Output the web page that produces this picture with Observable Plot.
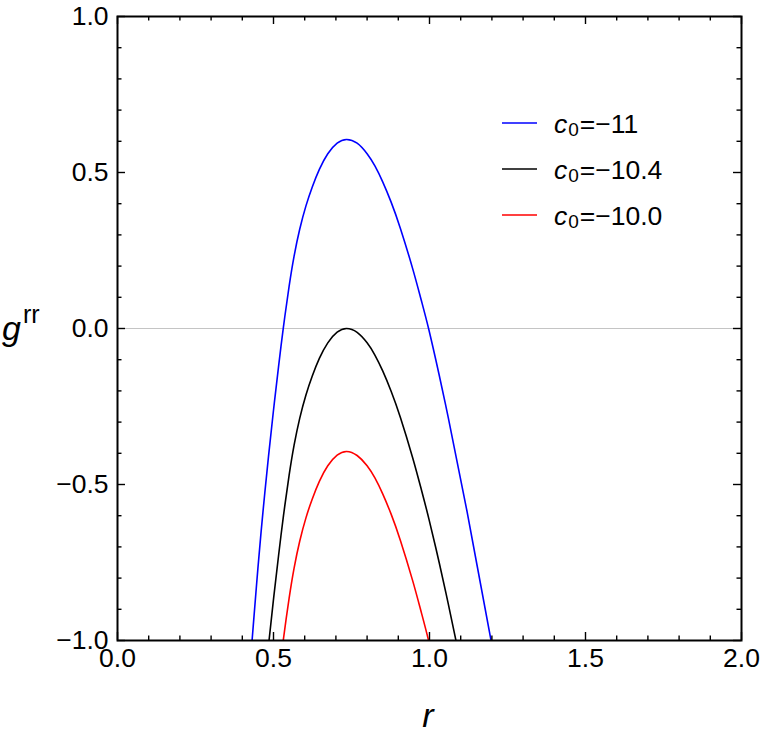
<!DOCTYPE html>
<html>
<head>
<meta charset="utf-8">
<script src="https://cdn.jsdelivr.net/npm/d3@7"></script>
<script src="https://cdn.jsdelivr.net/npm/@observablehq/plot@0.6"></script>
<style>
  html, body { margin: 0; padding: 0; background: #fff; }
  #chart { width: 763px; height: 742px; }
</style>
</head>
<body>
<div id="chart"></div>
<script>
// g^rr as a function of r for three values of the constant c0
const seriesNames = ["c0=−11", "c0=−10.4", "c0=−10.0"];
const seriesColors = ["#0000ff", "#000000", "#ff0000"];

const rC11 = [0.428, 0.435, 0.450, 0.466, 0.484, 0.500, 0.516, 0.532, 0.550, 0.566, 0.584, 0.604, 0.624, 0.647, 0.674, 0.704, 0.734, 0.768, 0.800, 0.825, 0.850, 0.877, 0.907, 0.946, 0.973, 0.998, 1.031, 1.060, 1.089, 1.120, 1.153, 1.201];
const gC11 = [-1.042, -0.954, -0.769, -0.590, -0.410, -0.262, -0.124, 0.006, 0.135, 0.232, 0.318, 0.393, 0.453, 0.510, 0.560, 0.594, 0.606, 0.594, 0.560, 0.521, 0.470, 0.405, 0.320, 0.192, 0.093, -0.004, -0.149, -0.285, -0.430, -0.585, -0.762, -1.020];

const rC104 = [0.466, 0.484, 0.500, 0.516, 0.532, 0.550, 0.566, 0.584, 0.604, 0.624, 0.647, 0.674, 0.704, 0.734, 0.768, 0.800, 0.825, 0.850, 0.877, 0.907, 0.946, 0.973, 0.998, 1.031, 1.060, 1.089, 1.120];
const gC104 = [-1.196, -1.016, -0.868, -0.730, -0.600, -0.471, -0.374, -0.288, -0.213, -0.153, -0.096, -0.046, -0.012, 0.0, -0.0125, -0.046, -0.085, -0.136, -0.201, -0.286, -0.414, -0.513, -0.610, -0.750, -0.882, -1.020, -1.175];

const rC100 = [0.516, 0.532, 0.550, 0.566, 0.584, 0.604, 0.624, 0.647, 0.674, 0.704, 0.734, 0.768, 0.800, 0.825, 0.850, 0.877, 0.907, 0.946, 0.973, 0.998, 1.031];
const gC100 = [-1.124, -0.994, -0.865, -0.768, -0.682, -0.607, -0.547, -0.490, -0.440, -0.406, -0.394, -0.407, -0.440, -0.479, -0.530, -0.595, -0.680, -0.808, -0.907, -1.004, -1.149];

const xMajor = [0, 0.5, 1.0, 1.5, 2.0];
const xMinor = [0.1, 0.2, 0.3, 0.4, 0.6, 0.7, 0.8, 0.9, 1.1, 1.2, 1.3, 1.4, 1.6, 1.7, 1.8, 1.9];
const yMajor = [-1.0, -0.5, 0.0, 0.5, 1.0];
const yMinor = [-0.9, -0.8, -0.7, -0.6, -0.4, -0.3, -0.2, -0.1, 0.1, 0.2, 0.3, 0.4, 0.6, 0.7, 0.8, 0.9];

const curves = [[rC11, gC11], [rC104, gC104], [rC100, gC100]];
const rows = curves.flatMap(([rs, gs], k) =>
  rs.map((r, i) => ({r, g: gs[i], series: seriesNames[k]}))
);

const W = 763, H = 742;
const M = {left: 117, right: 22, top: 16, bottom: 102};
const innerW = W - M.left - M.right;
const innerH = H - M.top - M.bottom;
const majorLen = 8, minorLen = 4.5;
const tick = {stroke: "black", strokeWidth: 1.4};

const fmt = d3.format(".1f");

const plot = Plot.plot({
  width: W,
  height: H,
  marginLeft: M.left,
  marginRight: M.right,
  marginTop: M.top,
  marginBottom: M.bottom,
  x: {domain: [0, 2]},
  y: {domain: [-1, 1]},
  color: {domain: seriesNames, range: seriesColors},
  style: {fontFamily: "'Liberation Sans', Arial, sans-serif", fontSize: "26.5px", color: "black", background: "white"},
  marks: [
    Plot.ruleY([0], {stroke: "#c4c4c4", strokeWidth: 1}),
    Plot.line(rows, {x: "r", y: "g", z: "series", stroke: "series", strokeWidth: 1.6, curve: "natural", clip: true}),
    // inward ticks on all four sides
    Plot.ruleX(xMajor, {...tick, insetTop: innerH - majorLen}),
    Plot.ruleX(xMinor, {...tick, insetTop: innerH - minorLen}),
    Plot.ruleX(xMajor, {...tick, insetBottom: innerH - majorLen}),
    Plot.ruleX(xMinor, {...tick, insetBottom: innerH - minorLen}),
    Plot.ruleY(yMajor, {...tick, insetRight: innerW - majorLen}),
    Plot.ruleY(yMinor, {...tick, insetRight: innerW - minorLen}),
    Plot.ruleY(yMajor, {...tick, insetLeft: innerW - majorLen}),
    Plot.ruleY(yMinor, {...tick, insetLeft: innerW - minorLen}),
    Plot.frame({stroke: "black", strokeWidth: 2}),
    // tick labels
    Plot.axisX(xMajor, {anchor: "bottom", tickSize: 0, tickPadding: 8, tickFormat: fmt, label: null}),
    Plot.axisY(yMajor, {anchor: "left", tickSize: 0, tickPadding: 9, tickFormat: fmt, label: null})
  ]
});

document.getElementById("chart").appendChild(plot);

// axis titles and legend
const svg = d3.select(plot);
const font = "'Liberation Sans', Arial, sans-serif";

svg.append("text")
  .attr("x", 428).attr("y", 727)
  .attr("text-anchor", "middle")
  .attr("font-family", font).attr("font-size", 34).attr("font-style", "italic")
  .attr("fill", "black")
  .text("r");

const yTitle = svg.append("text")
  .attr("x", 2).attr("y", 340)
  .attr("text-anchor", "start")
  .attr("font-family", font).attr("fill", "black");
yTitle.append("tspan").attr("font-size", 34).attr("font-style", "italic").text("g");
yTitle.append("tspan").attr("font-size", 25).attr("dy", -17).attr("dx", 2).text("rr");

const legendLabels = ["−11", "−10.4", "−10.0"];
const legend = svg.append("g");
legendLabels.forEach((v, i) => {
  const cy = 123 + i * 46;
  legend.append("line")
    .attr("x1", 502).attr("x2", 537).attr("y1", cy).attr("y2", cy)
    .attr("stroke", seriesColors[i]).attr("stroke-width", 1.5);
  const t = legend.append("text")
    .attr("x", 554).attr("y", cy + 10)
    .attr("text-anchor", "start")
    .attr("font-family", font).attr("font-size", 26.5).attr("fill", "black");
  t.append("tspan").attr("font-style", "italic").text("c");
  t.append("tspan").attr("font-size", 19).attr("dy", 3).attr("dx", 1).text("0");
  t.append("tspan").attr("dy", -3).attr("dx", 1).text("=" + v);
});
</script>
</body>
</html>
